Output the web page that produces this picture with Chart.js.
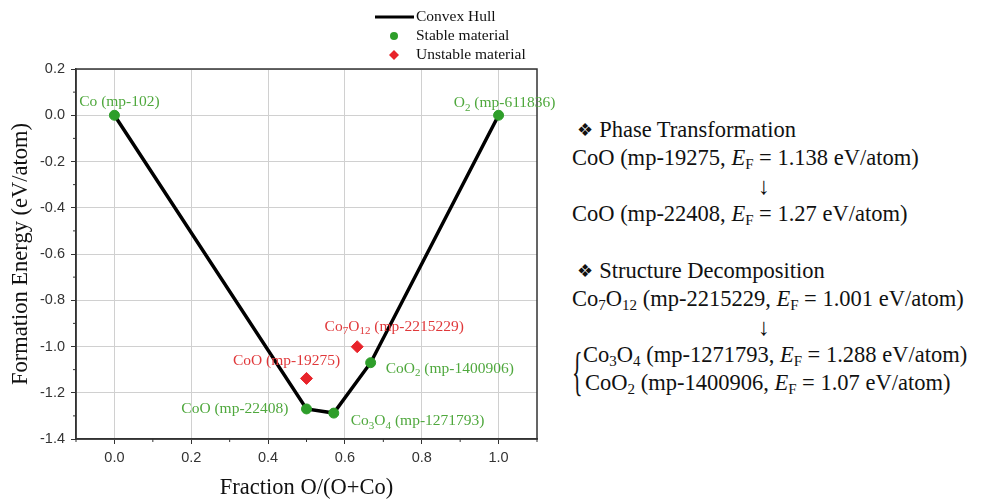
<!DOCTYPE html>
<html>
<head>
<meta charset="utf-8">
<script src="https://cdn.jsdelivr.net/npm/chart.js@4.4.1/dist/chart.umd.min.js"></script>
<style>
  html, body { margin: 0; padding: 0; background: #fff; }
  #wrap { position: relative; width: 987px; height: 504px; }
  #chartBox { position: absolute; left: 0; top: 0; width: 560px; height: 504px; }
  #notes { position: absolute; left: 572px; top: 116px; font-family: "Liberation Serif", serif; font-size: 22.5px; color: #111; line-height: 28px; white-space: nowrap; }
  #notes .row { height: 28px; }
  #notes .arrow { padding-left: 186px; font-size: 24px; }
  #notes .gap { height: 29px; }
  #notes sub { font-size: 15px; vertical-align: -4px; line-height: 0; }
  #notes .brace { position: absolute; left: 0; font-size: 22px; transform: scaleY(2.4); transform-origin: left top; }
  #notes .ind { padding-left: 11px; }
  .bullet { font-family: "DejaVu Sans"; font-size: 18px; padding: 0 6px 0 5px; vertical-align: 1px; }
</style>
</head>
<body>
<div id="wrap">
  <div id="chartBox"><canvas id="hull"></canvas></div>
  <div id="notes">
    <div class="row"><span class="bullet">❖</span>Phase Transformation</div>
    <div class="row">CoO (mp-19275, <i>E</i><sub>F</sub> = 1.138 eV/atom)</div>
    <div class="row arrow">↓</div>
    <div class="row">CoO (mp-22408, <i>E</i><sub>F</sub> = 1.27 eV/atom)</div>
    <div class="gap"></div>
    <div class="row"><span class="bullet">❖</span>Structure Decomposition</div>
    <div class="row">Co<sub>7</sub>O<sub>12</sub> (mp-2215229, <i>E</i><sub>F</sub> = 1.001 eV/atom)</div>
    <div class="row arrow">↓</div>
    <div style="position:relative">
      <span class="brace" style="top:-2px">{</span>
      <div class="row ind">Co<sub>3</sub>O<sub>4</sub> (mp-1271793, <i>E</i><sub>F</sub> = 1.288 eV/atom)</div>
      <div class="row ind" style="padding-left:13px">CoO<sub>2</sub> (mp-1400906, <i>E</i><sub>F</sub> = 1.07 eV/atom)</div>
    </div>
  </div>
</div>
<script>
// composition O/(O+Co) vs formation energy (eV/atom)
const stableX = [0, 0.5, 0.571, 0.667, 1];
const stableY = [0, -1.27, -1.288, -1.07, 0];
const stableNames = ['Co (mp-102)', 'CoO (mp-22408)', 'Co_3O_4 (mp-1271793)', 'CoO_2 (mp-1400906)', 'O_2 (mp-611836)'];

const unstableX = [0.5, 0.632];
const unstableY = [-1.138, -1.001];
const unstableNames = ['CoO (mp-19275)', 'Co_7O_{12} (mp-2215229)'];

const xTicks = [0, 0.2, 0.4, 0.6, 0.8, 1.0];
const yTicks = [0.2, 0, -0.2, -0.4, -0.6, -0.8, -1.0, -1.2, -1.4];
const seriesNames = ['Convex Hull', 'Stable material', 'Unstable material'];

// label placement (px offset from the marker, alignment)
const stableLabelPos = [[5, -13, 'center'], [-18, 0, 'right'], [17, 8, 'left'], [15, 6, 'left'], [6, -12, 'center']];
const unstableLabelPos = [[-20, -17, 'center'], [37, -20, 'center']];

const GREEN = '#2e9e2a', GREEN_TXT = '#4fa83d', RED = '#e8232a', RED_TXT = '#e0383a';
const SERIF = '"Liberation Serif", "Times New Roman", serif';
const SANS = '"Liberation Sans", Arial, sans-serif';

const pts = (xs, ys) => xs.map((x, i) => ({ x, y: ys[i] }));

// text with simple subscripts: "Co_3O_{12}"
function richText(ctx, str, x, y, size, align, color) {
  const parts = [];
  const re = /_(\{[^}]*\}|.)/g;
  let last = 0, m;
  while ((m = re.exec(str))) {
    if (m.index > last) parts.push({ t: str.slice(last, m.index), sub: false });
    parts.push({ t: m[1].replace(/[{}]/g, ''), sub: true });
    last = re.lastIndex;
  }
  if (last < str.length) parts.push({ t: str.slice(last), sub: false });
  const subSize = Math.round(size * 0.68);
  const widthOf = p => { ctx.font = `${p.sub ? subSize : size}px ${SERIF}`; return ctx.measureText(p.t).width; };
  const total = parts.reduce((a, p) => a + widthOf(p), 0);
  let cx = align === 'center' ? x - total / 2 : align === 'right' ? x - total : x;
  ctx.fillStyle = color;
  ctx.textAlign = 'left';
  ctx.textBaseline = 'middle';
  parts.forEach(p => {
    ctx.font = `${p.sub ? subSize : size}px ${SERIF}`;
    ctx.fillText(p.t, cx, p.sub ? y + size * 0.3 : y);
    cx += ctx.measureText(p.t).width;
  });
}

const decorations = {
  id: 'decorations',
  afterDraw(chart) {
    const { ctx, chartArea: a, scales: { x, y } } = chart;
    ctx.save();
    // frame
    ctx.strokeStyle = '#333';
    ctx.lineWidth = 1.5;
    ctx.strokeRect(a.left, a.top, a.right - a.left, a.bottom - a.top);
    // minor ticks
    ctx.lineWidth = 1;
    for (let v = -0.1; v <= 1.1001; v += 0.2) {
      const px = x.getPixelForValue(v);
      ctx.beginPath(); ctx.moveTo(px, a.bottom); ctx.lineTo(px, a.bottom + 3); ctx.stroke();
    }
    for (let v = 0.1; v >= -1.3001; v -= 0.2) {
      const py = y.getPixelForValue(v);
      ctx.beginPath(); ctx.moveTo(a.left, py); ctx.lineTo(a.left - 3, py); ctx.stroke();
    }
    // point labels
    stableNames.forEach((name, i) => {
      const [dx, dy, al] = stableLabelPos[i];
      richText(ctx, name, x.getPixelForValue(stableX[i]) + dx, y.getPixelForValue(stableY[i]) + dy, 15.5, al, GREEN_TXT);
    });
    unstableNames.forEach((name, i) => {
      const [dx, dy, al] = unstableLabelPos[i];
      richText(ctx, name, x.getPixelForValue(unstableX[i]) + dx, y.getPixelForValue(unstableY[i]) + dy, 15.5, al, RED_TXT);
    });
    // legend
    const lx = 375, ly = 17, step = 19;
    ctx.strokeStyle = '#000'; ctx.lineWidth = 3;
    ctx.beginPath(); ctx.moveTo(lx, ly); ctx.lineTo(lx + 39, ly); ctx.stroke();
    ctx.fillStyle = GREEN;
    ctx.beginPath(); ctx.arc(lx + 19, ly + step, 4, 0, Math.PI * 2); ctx.fill();
    ctx.fillStyle = RED;
    ctx.beginPath();
    ctx.moveTo(lx + 19, ly + 2 * step - 5); ctx.lineTo(lx + 24, ly + 2 * step);
    ctx.lineTo(lx + 19, ly + 2 * step + 5); ctx.lineTo(lx + 14, ly + 2 * step); ctx.closePath(); ctx.fill();
    seriesNames.forEach((n, i) => richText(ctx, n, lx + 41, ly + i * step, 15.5, 'left', '#111'));
    ctx.restore();
  },
};

new Chart(document.getElementById('hull'), {
  type: 'scatter',
  data: {
    datasets: [
      { label: seriesNames[0], data: pts(stableX, stableY), showLine: true, borderColor: '#000', borderWidth: 3.5,
        pointRadius: 0, order: 3 },
      { label: seriesNames[1], data: pts(stableX, stableY), backgroundColor: GREEN, borderColor: GREEN,
        pointRadius: 5, order: 2 },
      { label: seriesNames[2], data: pts(unstableX, unstableY), pointStyle: 'rectRot', backgroundColor: RED,
        borderColor: RED, pointRadius: 6, order: 1 },
    ],
  },
  options: {
    responsive: true,
    maintainAspectRatio: false,
    animation: false,
    layout: { padding: { top: 69, right: 23, left: 0, bottom: 0 } },
    plugins: { legend: { display: false }, tooltip: { enabled: false } },
    scales: {
      x: {
        min: -0.1, max: 1.1,
        afterBuildTicks: s => { s.ticks = xTicks.map(value => ({ value })); },
        afterFit: s => { s.height = 65; },
        grid: { color: '#d0d0d0', lineWidth: 1, tickColor: '#333', tickLength: 5 },
        border: { color: '#333', width: 1.5 },
        ticks: { color: '#333', font: { family: SANS, size: 14.5 }, padding: 5, callback: v => Number(v).toFixed(1) },
        title: { display: true, text: 'Fraction O/(O+Co)', color: '#111', font: { family: SERIF, size: 22.5 },
          padding: { top: 4, bottom: 2 } },
      },
      y: {
        min: -1.4, max: 0.2,
        afterBuildTicks: s => { s.ticks = yTicks.map(value => ({ value })); },
        afterFit: s => { s.width = 76; },
        grid: { color: '#d0d0d0', lineWidth: 1, tickColor: '#333', tickLength: 5 },
        border: { color: '#333', width: 1.5 },
        ticks: { color: '#333', font: { family: SANS, size: 14.5 }, padding: 6, callback: v => Number(v).toFixed(1) },
        title: { display: true, text: 'Formation Energy (eV/atom)', color: '#111', font: { family: SERIF, size: 22.5 },
          padding: { top: 8, bottom: 0 } },
      },
    },
  },
  plugins: [decorations],
});
</script>
</body>
</html>
